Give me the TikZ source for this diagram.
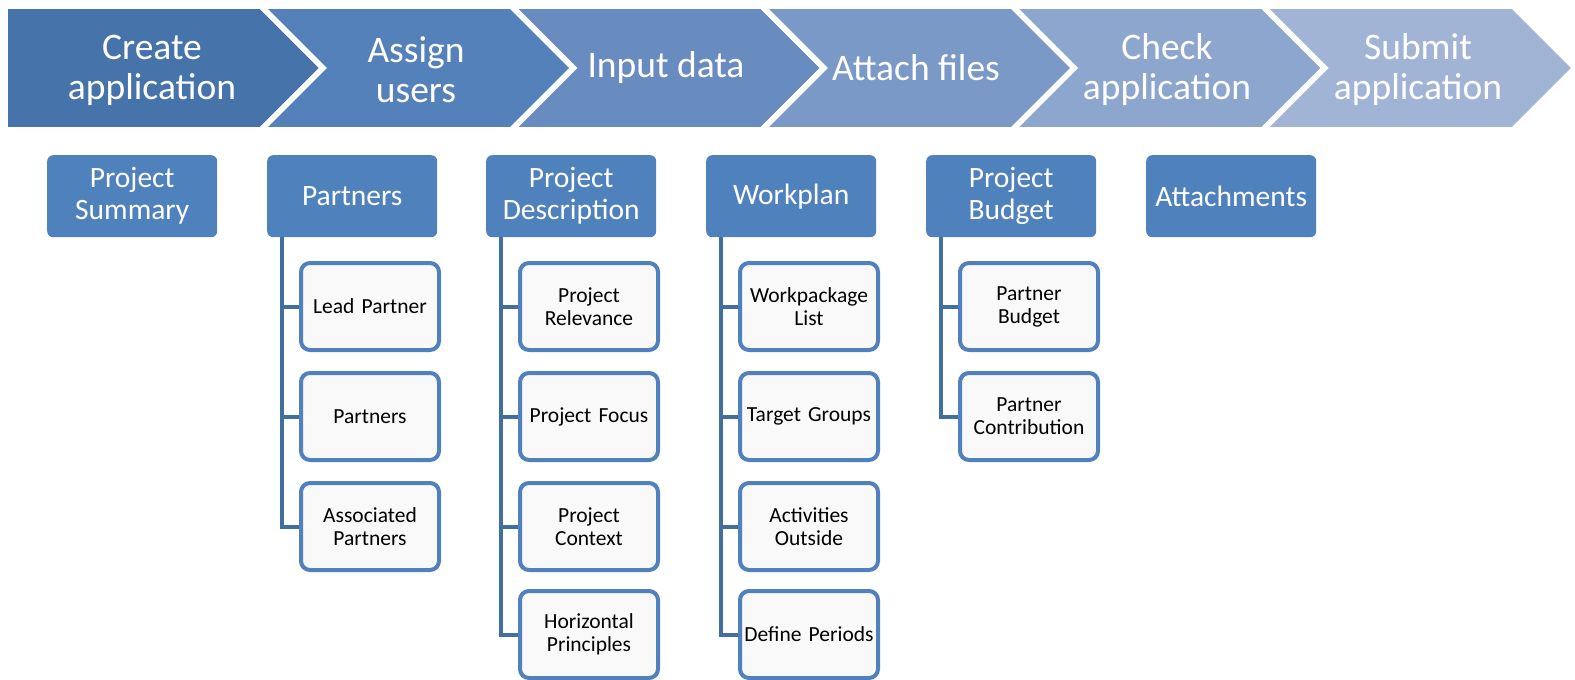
\documentclass[tikz,border=0pt]{standalone}
\usepackage{fontspec}
\setmainfont{Carlito}
\definecolor{cA}{HTML}{4673AA}
\definecolor{cB}{HTML}{5481B9}
\definecolor{cC}{HTML}{698CC0}
\definecolor{cD}{HTML}{7A99C6}
\definecolor{cE}{HTML}{8DA6CD}
\definecolor{cF}{HTML}{A2B4D6}
\definecolor{hdrblue}{HTML}{4F81BD}
\definecolor{childborder}{HTML}{5080BD}
\definecolor{childfill}{HTML}{F9F9F9}
\definecolor{connblue}{HTML}{41709F}
\begin{document}
\begin{tikzpicture}[x=1pt,y=-1pt,
  chev/.style={draw=white, line width=5.6pt, line join=miter},
  chevtext/.style={text=white, align=center, font=\fontsize{37.5}{40}\selectfont, inner sep=0pt},
  hdr/.style={fill=hdrblue, rounded corners=6pt, minimum width=170pt, minimum height=82pt, text=white, align=center, font=\fontsize{29.5}{32}\selectfont, inner sep=0pt, anchor=north west},
  child/.style={draw=childborder, line width=4pt, fill=childfill, rounded corners=9pt, minimum width=138pt, minimum height=87pt, align=center, font=\fontsize{21.5}{23}\selectfont, inner sep=0pt, text width=130pt},
  conn/.style={draw=connblue, line width=4pt, line join=miter}]
\useasboundingbox (0,0) rectangle (1575,680);
\fill[white] (0,0) rectangle (1575,680);
% chevrons
\filldraw[chev, fill=cA] (5,6) -- (261,6) -- (323,68) -- (261,130) -- (5,130) -- cycle;
\filldraw[chev, fill=cB] (261,6) -- (511.4,6) -- (573.4,68) -- (511.4,130) -- (261,130) -- (323,68) -- cycle;
\filldraw[chev, fill=cC] (511.4,6) -- (761.8,6) -- (823.8,68) -- (761.8,130) -- (511.4,130) -- (573.4,68) -- cycle;
\filldraw[chev, fill=cD] (761.8,6) -- (1012.2,6) -- (1074.2,68) -- (1012.2,130) -- (761.8,130) -- (823.8,68) -- cycle;
\filldraw[chev, fill=cE] (1012.2,6) -- (1262.6,6) -- (1324.6,68) -- (1262.6,130) -- (1012.2,130) -- (1074.2,68) -- cycle;
\filldraw[chev, fill=cF] (1262.6,6) -- (1513,6) -- (1575,68) -- (1513,130) -- (1262.6,130) -- (1324.6,68) -- cycle;
\node[chevtext] (t1) at (152,70) {Create\\application};
\node[chevtext] (t2) at (416,70) {Assign\\users};
\node[chevtext] (t3) at (666,68) {Input data};
\node[chevtext] (t4) at (916,68) {Attach files};
\node[chevtext] (t5) at (1167,70) {Check\\application};
\node[chevtext] (t6) at (1418,70) {Submit\\application};
% headers
\node[hdr] (h1) at (47,155) {Project\\Summary};
\node[hdr] (h2) at (267,155) {Partners};
\node[hdr] (h3) at (486,155) {Project\\Description};
\node[hdr] (h4) at (706,155) {Workplan};
\node[hdr] (h5) at (926,155) {Project\\Budget};
\node[hdr] (h6) at (1146,155) {Attachments};
% children: Partners
\node[child] (c2a) at (370,306.5) {Lead Partner};
\node[child] (c2b) at (370,416.5) {Partners};
\node[child] (c2c) at (370,526.5) {Associated\\Partners};
% Project Description
\node[child] (c3a) at (589,306.5) {Project\\Relevance};
\node[child] (c3b) at (589,416.5) {Project Focus};
\node[child] (c3c) at (589,526.5) {Project\\Context};
\node[child] (c3d) at (589,634.5) {Horizontal\\Principles};
% Workplan
\node[child] (c4a) at (809,306.5) {Workpackage\\List};
\node[child] (c4b) at (809,416.5) {Target Groups};
\node[child] (c4c) at (809,526.5) {Activities\\Outside};
\node[child] (c4d) at (809,634.5) {Define Periods};
% Project Budget
\node[child] (c5a) at (1029,306.5) {Partner\\Budget};
\node[child] (c5b) at (1029,416.5) {Partner\\Contribution};
% connectors
\foreach \h/\c in {h2/c2a,h2/c2b,h2/c2c,h3/c3a,h3/c3b,h3/c3c,h3/c3d,h4/c4a,h4/c4b,h4/c4c,h4/c4d,h5/c5a,h5/c5b}
  \draw[conn] ([xshift=15pt]\h.south west) |- (\c.west);
\end{tikzpicture}
\end{document}
